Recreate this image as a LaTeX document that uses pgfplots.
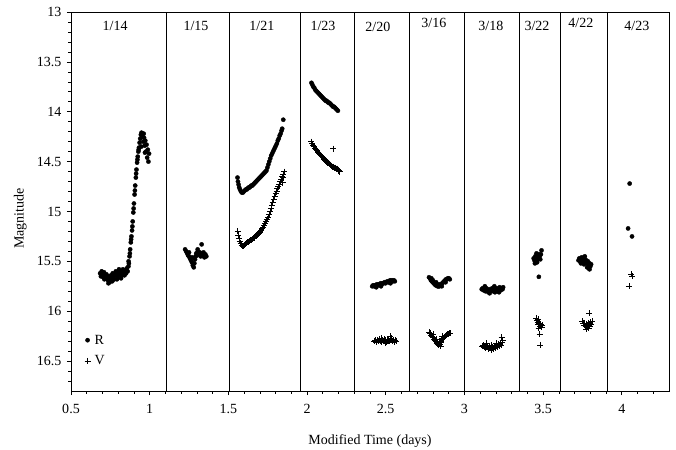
\documentclass[border=0pt]{standalone}
\usepackage{fontspec}
\setmainfont{Liberation Serif}
\usepackage{pgfplots}
\pgfplotsset{compat=1.18}
\begin{document}
\begin{tikzpicture}
\begin{axis}[
  name=ax,
  width=598pt, height=379pt, scale only axis,
  xmin=0.5, xmax=4.3, ymin=13, ymax=16.8, y dir=reverse,
  xtick={0.5,1,1.5,2,2.5,3,3.5,4},
  ytick={13,13.5,14,14.5,15,15.5,16,16.5},
  minor xtick={0.6,0.7,0.8,0.9,1.1,1.2,1.3,1.4,1.6,1.7,1.8,1.9,2.1,2.2,2.3,2.4,2.6,2.7,2.8,2.9,3.1,3.2,3.3,3.4,3.6,3.7,3.8,3.9,4.1,4.2},
  minor ytick={13.1,13.2,13.3,13.4,13.6,13.7,13.8,13.9,14.1,14.2,14.3,14.4,14.6,14.7,14.8,14.9,15.1,15.2,15.3,15.4,15.6,15.7,15.8,15.9,16.1,16.2,16.3,16.4,16.6,16.7},
  tick align=outside, xtick pos=bottom, ytick pos=left,
  major tick length=4pt, minor tick length=2.5pt,
  every tick/.style={black, line width=0.6pt},
  axis line style={black, line width=0.8pt},
  /pgf/number format/assume math mode=true,
  font=\fontsize{14}{17}\selectfont,
  ticklabel style={font=\fontsize{14}{17}\selectfont},
  xticklabel shift=6pt,
  yticklabel shift=2pt,
  xlabel={Modified Time (days)},
  ylabel={Magnitude},
  xlabel style={at={(axis description cs:0.5,-0.131)}, anchor=center},
  ylabel style={at={(axis description cs:-0.085,0.455)}, anchor=center},
  legend style={at={(axis cs:0.585,16.215)}, anchor=north west, draw=none, fill=none,
    font=\fontsize{14}{17}\selectfont, row sep=6pt, inner sep=0pt,
    nodes={inner xsep=4pt}},
  legend cell align=left,
  legend image code/.code={\draw[#1] plot coordinates {(2pt,0pt)};},
  clip=false,
]
\addlegendimage{only marks, mark=*, mark size=2.1pt, black}
\addlegendentry{R}
\addlegendimage{only marks, mark=+, mark size=3pt, black, line width=0.7pt}
\addlegendentry{V}

% night separators
\pgfplotsinvokeforeach{1.105,1.506,1.959,2.300,2.653,3.003,3.353,3.608,3.908}{
  \addplot[black, line width=1pt, forget plot] coordinates {(#1,13) (#1,16.8)};
}

% night labels
\node[font=\fontsize{14}{17}\selectfont] at (axis cs:0.78,13.14) {1/14};
\node[font=\fontsize{14}{17}\selectfont] at (axis cs:1.294,13.14) {1/15};
\node[font=\fontsize{14}{17}\selectfont] at (axis cs:1.713,13.14) {1/21};
\node[font=\fontsize{14}{17}\selectfont] at (axis cs:2.101,13.14) {1/23};
\node[font=\fontsize{14}{17}\selectfont] at (axis cs:2.450,13.15) {2/20};
\node[font=\fontsize{14}{17}\selectfont] at (axis cs:2.806,13.11) {3/16};
\node[font=\fontsize{14}{17}\selectfont] at (axis cs:3.168,13.14) {3/18};
\node[font=\fontsize{14}{17}\selectfont] at (axis cs:3.461,13.14) {3/22};
\node[font=\fontsize{14}{17}\selectfont] at (axis cs:3.740,13.11) {4/22};
\node[font=\fontsize{14}{17}\selectfont] at (axis cs:4.096,13.14) {4/23};

% ---------- R band ----------
\addplot[only marks, mark=*, mark size=2.1pt, black, forget plot] coordinates {
% 1/14
(0.685,15.62) (0.690,15.65) (0.695,15.60) (0.700,15.63) (0.705,15.66) (0.710,15.61)
(0.715,15.64) (0.720,15.67) (0.725,15.63) (0.730,15.66) (0.735,15.69) (0.740,15.65)
(0.745,15.71) (0.750,15.68) (0.755,15.64) (0.760,15.67) (0.765,15.62) (0.770,15.65)
(0.775,15.68) (0.780,15.63) (0.785,15.60) (0.790,15.64) (0.795,15.66) (0.800,15.61)
(0.805,15.58) (0.810,15.63) (0.815,15.60) (0.820,15.65) (0.825,15.62) (0.830,15.58)
(0.835,15.61) (0.840,15.64) (0.845,15.59) (0.850,15.62) (0.855,15.57) (0.860,15.60)
(0.865,15.55) (0.868,15.52) (0.872,15.45) (0.876,15.38) (0.880,15.31) (0.884,15.25)
(0.888,15.19) (0.892,15.10) (0.896,15.01) (0.900,14.92) (0.904,14.83) (0.908,14.74)
(0.912,14.66) (0.916,14.58) (0.920,14.51) (0.924,14.45) (0.928,14.40) (0.932,14.36)
(0.936,14.31) (0.940,14.27) (0.944,14.23) (0.948,14.21) (0.952,14.25) (0.956,14.22)
(0.960,14.30) (0.964,14.26) (0.968,14.34) (0.972,14.29) (0.976,14.40) (0.980,14.33)
(0.984,14.46) (0.988,14.38) (0.992,14.50) (0.996,14.42)
(0.866,15.50) (0.874,15.42) (0.882,15.28) (0.890,15.15) (0.898,14.97) (0.906,14.79)
(0.914,14.62) (0.922,14.48) (0.930,14.38) (0.946,14.35) (0.962,14.22) (0.970,14.41)
(0.712,15.68) (0.738,15.72) (0.762,15.70) (0.792,15.68) (0.818,15.67) (0.842,15.61)
% 1/15
(1.225,15.38) (1.232,15.40) (1.238,15.42) (1.244,15.44) (1.250,15.45) (1.256,15.47)
(1.262,15.49) (1.268,15.51) (1.274,15.54) (1.280,15.56) (1.284,15.52) (1.288,15.48)
(1.292,15.45) (1.296,15.42) (1.300,15.44) (1.306,15.40) (1.312,15.43) (1.318,15.41)
(1.324,15.45) (1.330,15.42) (1.336,15.44) (1.342,15.41) (1.348,15.46) (1.354,15.43)
(1.360,15.45) (1.330,15.33) (1.305,15.38) (1.250,15.41) (1.270,15.46)
% 1/21
(1.558,14.66) (1.561,14.70) (1.565,14.73) (1.569,14.76) (1.574,14.78) (1.580,14.80)
(1.586,14.81) (1.592,14.81) (1.598,14.80) (1.604,14.79) (1.610,14.78) (1.616,14.78)
(1.622,14.77) (1.628,14.76) (1.634,14.76) (1.640,14.75) (1.646,14.74) (1.652,14.74)
(1.658,14.73) (1.664,14.72) (1.670,14.71) (1.676,14.70) (1.682,14.69) (1.688,14.68)
(1.694,14.67) (1.700,14.66) (1.706,14.65) (1.712,14.64) (1.718,14.63) (1.724,14.62)
(1.730,14.61) (1.736,14.60) (1.742,14.59) (1.748,14.56) (1.754,14.53) (1.760,14.50)
(1.766,14.47) (1.772,14.44) (1.778,14.42) (1.784,14.40) (1.790,14.38) (1.796,14.36)
(1.802,14.34) (1.808,14.32) (1.814,14.29) (1.820,14.27) (1.826,14.24) (1.832,14.22)
(1.838,14.19) (1.842,14.17) (1.849,14.08)
% 1/23
(2.028,13.71) (2.034,13.73) (2.040,13.75) (2.046,13.76) (2.052,13.78) (2.058,13.79)
(2.064,13.80) (2.070,13.81) (2.076,13.82) (2.082,13.83) (2.088,13.84) (2.094,13.85)
(2.100,13.86) (2.106,13.87) (2.112,13.88) (2.118,13.89) (2.124,13.89) (2.130,13.90)
(2.136,13.91) (2.142,13.91) (2.148,13.92) (2.154,13.93) (2.160,13.94) (2.166,13.95)
(2.172,13.95) (2.178,13.96) (2.184,13.97) (2.190,13.98) (2.196,13.99)
% 2/20
(2.414,15.75) (2.420,15.74) (2.426,15.75) (2.432,15.74) (2.438,15.74) (2.444,15.73)
(2.450,15.74) (2.456,15.73) (2.462,15.73) (2.468,15.72) (2.474,15.73) (2.480,15.72)
(2.486,15.72) (2.492,15.71) (2.498,15.72) (2.504,15.71) (2.510,15.70) (2.516,15.71)
(2.522,15.70) (2.528,15.69) (2.534,15.70) (2.540,15.69) (2.546,15.70) (2.552,15.69)
(2.558,15.70) (2.440,15.76) (2.470,15.75) (2.530,15.72)
% 3/16
(2.775,15.66) (2.781,15.67) (2.787,15.69) (2.793,15.70) (2.799,15.71) (2.805,15.72)
(2.811,15.73) (2.817,15.74) (2.823,15.74) (2.829,15.75) (2.835,15.75) (2.841,15.75)
(2.847,15.74) (2.853,15.73) (2.859,15.72) (2.865,15.71) (2.871,15.70) (2.877,15.69)
(2.883,15.68) (2.889,15.68) (2.895,15.67) (2.901,15.67) (2.907,15.68) (2.790,15.67)
(2.800,15.69) (2.880,15.71) (2.820,15.71) (2.838,15.73) (2.856,15.75)
% 3/18
(3.110,15.78) (3.116,15.77) (3.122,15.79) (3.128,15.78) (3.134,15.80) (3.140,15.77)
(3.146,15.79) (3.152,15.81) (3.158,15.78) (3.164,15.80) (3.170,15.79) (3.176,15.77)
(3.182,15.80) (3.188,15.78) (3.194,15.81) (3.200,15.79) (3.206,15.77) (3.212,15.80)
(3.218,15.78) (3.224,15.76) (3.230,15.79) (3.236,15.77) (3.242,15.78) (3.246,15.76)
(3.130,15.75) (3.190,15.75) (3.160,15.82) (3.220,15.81)
% 3/22
(3.440,15.47) (3.445,15.49) (3.450,15.45) (3.452,15.50) (3.456,15.47) (3.460,15.44)
(3.462,15.51) (3.466,15.48) (3.470,15.46) (3.474,15.43) (3.478,15.45) (3.482,15.48)
(3.486,15.43) (3.490,15.39) (3.473,15.655) (3.448,15.52) (3.458,15.42)
% 4/22
(3.725,15.49) (3.730,15.47) (3.735,15.50) (3.740,15.48) (3.745,15.46) (3.750,15.49)
(3.755,15.47) (3.760,15.50) (3.765,15.48) (3.770,15.51) (3.775,15.49) (3.780,15.52)
(3.785,15.50) (3.790,15.54) (3.795,15.52) (3.800,15.55) (3.805,15.53) (3.740,15.52)
(3.760,15.53) (3.780,15.56) (3.795,15.58) (3.790,15.57) (3.765,15.45)
% 4/23
(4.050,14.72) (4.040,15.17) (4.065,15.25)
};

% ---------- V band ----------
\addplot[only marks, mark=+, mark size=3pt, black, line width=0.7pt, forget plot] coordinates {
% 1/21
(1.560,15.20) (1.563,15.24) (1.567,15.27) (1.572,15.30) (1.578,15.32) (1.584,15.34)
(1.590,15.35) (1.596,15.35) (1.602,15.34) (1.608,15.33) (1.614,15.32) (1.620,15.31)
(1.626,15.31) (1.632,15.30) (1.638,15.29) (1.644,15.29) (1.650,15.28) (1.656,15.27)
(1.662,15.27) (1.668,15.26) (1.674,15.25) (1.680,15.24) (1.686,15.23) (1.692,15.22)
(1.698,15.21) (1.704,15.20) (1.710,15.19) (1.716,15.17) (1.722,15.16) (1.728,15.14)
(1.734,15.12) (1.740,15.10) (1.746,15.08) (1.752,15.06) (1.758,15.03) (1.764,15.00)
(1.770,14.97) (1.776,14.94) (1.782,14.91) (1.788,14.88) (1.794,14.85) (1.800,14.82)
(1.806,14.80) (1.812,14.77) (1.818,14.75) (1.824,14.73) (1.830,14.70) (1.836,14.68)
(1.842,14.65) (1.848,14.63) (1.855,14.60) (1.850,14.66) (1.845,14.71)
% 1/23
(2.028,14.30) (2.034,14.32) (2.040,14.34) (2.046,14.35) (2.052,14.37) (2.058,14.38)
(2.064,14.39) (2.070,14.41) (2.076,14.42) (2.082,14.43) (2.088,14.44) (2.094,14.45)
(2.100,14.46) (2.106,14.47) (2.112,14.48) (2.118,14.49) (2.124,14.50) (2.130,14.51)
(2.136,14.51) (2.142,14.52) (2.148,14.53) (2.154,14.54) (2.160,14.55) (2.166,14.55)
(2.172,14.56) (2.178,14.56) (2.184,14.57) (2.190,14.57) (2.196,14.58) (2.202,14.59)
(2.208,14.60) (2.167,14.37)
% 2/20
(2.428,16.30) (2.434,16.29) (2.440,16.31) (2.446,16.29) (2.452,16.30) (2.458,16.28)
(2.464,16.30) (2.470,16.31) (2.476,16.29) (2.482,16.30) (2.488,16.28) (2.494,16.30)
(2.500,16.29) (2.506,16.31) (2.512,16.29) (2.518,16.28) (2.524,16.30) (2.530,16.29)
(2.536,16.27) (2.542,16.30) (2.548,16.29) (2.554,16.31) (2.560,16.29) (2.566,16.30)
(2.530,16.25) (2.470,16.27) (2.500,16.32)
% 3/16
(2.776,16.21) (2.782,16.22) (2.788,16.24) (2.794,16.25) (2.800,16.26) (2.806,16.28)
(2.812,16.29) (2.818,16.30) (2.824,16.32) (2.830,16.33) (2.836,16.34) (2.842,16.33)
(2.848,16.31) (2.854,16.30) (2.860,16.28) (2.866,16.27) (2.872,16.26) (2.878,16.25)
(2.884,16.24) (2.890,16.23) (2.896,16.23) (2.902,16.22) (2.908,16.22) (2.800,16.23)
(2.860,16.25) (2.840,16.30) (2.820,16.28) (2.850,16.35)
% 3/18
(3.112,16.35) (3.118,16.34) (3.124,16.36) (3.130,16.35) (3.136,16.37) (3.142,16.34)
(3.148,16.36) (3.154,16.38) (3.160,16.35) (3.166,16.37) (3.172,16.34) (3.178,16.36)
(3.184,16.38) (3.190,16.35) (3.196,16.37) (3.202,16.34) (3.208,16.36) (3.214,16.33)
(3.220,16.35) (3.226,16.32) (3.232,16.34) (3.238,16.31) (3.236,16.26) (3.242,16.29)
(3.140,16.32) (3.200,16.32) (3.170,16.39)
% 3/22
(3.455,16.07) (3.460,16.09) (3.465,16.11) (3.470,16.13) (3.468,16.08) (3.475,16.12)
(3.480,16.15) (3.485,16.13) (3.490,16.16) (3.495,16.14) (3.478,16.23) (3.482,16.34)
(3.472,16.17)
% 4/22
(3.748,16.10) (3.755,16.12) (3.760,16.14) (3.765,16.12) (3.770,16.15) (3.775,16.13)
(3.780,16.16) (3.785,16.14) (3.790,16.12) (3.795,16.15) (3.800,16.11) (3.805,16.13)
(3.810,16.10) (3.775,16.18) (3.790,16.17) (3.793,16.02)
% 4/23
(4.060,15.63) (4.065,15.65) (4.045,15.75)
};
\end{axis}
\pgfresetboundingbox
\path (ax.south west) ++(-71pt,-58pt) rectangle ++(676pt,449pt);
\end{tikzpicture}
\end{document}
